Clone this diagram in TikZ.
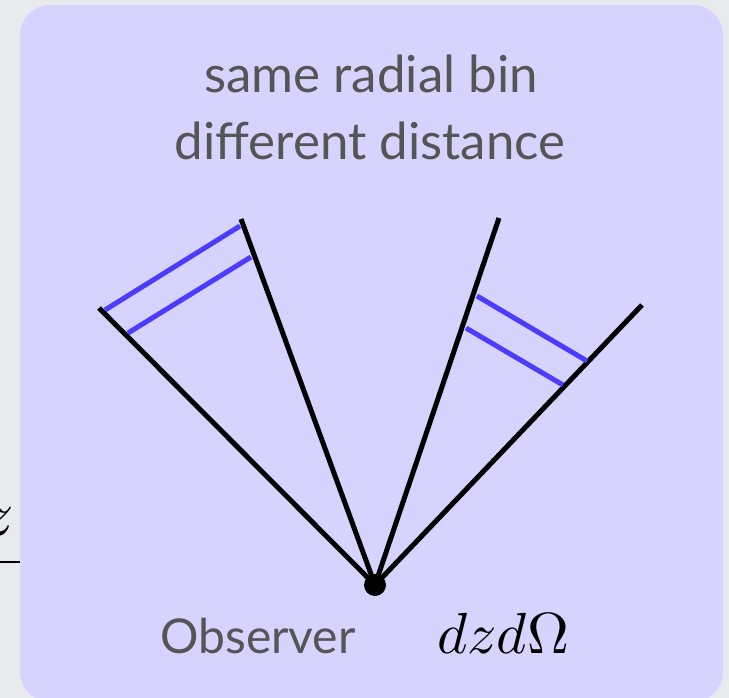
\documentclass[tikz,border=0pt]{standalone}
\usepackage{graphicx}
\usepackage{fontspec}
\setmainfont{Lato}
\definecolor{bgout}{RGB}{233,234,238}
\definecolor{panel}{RGB}{214,211,254}
\definecolor{txt}{RGB}{85,85,85}
\definecolor{binblue}{RGB}{75,60,255}
\begin{document}
\begin{tikzpicture}[x=1pt,y=-1pt,
  ray/.style={line width=5pt,black},
  binline/.style={line width=5pt,binblue},
  label/.style={anchor=base,text=txt,inner sep=0pt,font=\fontsize{51}{56}\selectfont},
  obslabel/.style={anchor=base,text=txt,inner sep=0pt,font=\fontsize{48}{54}\selectfont},
  mathlabel/.style={anchor=base,inner sep=0pt}]
\useasboundingbox (0,0) rectangle (729,698);
\fill[bgout] (0,0) rectangle (729,698);
% partial fraction from the slide behind
\node[anchor=base east,inner sep=0pt] (zfrag) at (14,535) {\scalebox{6.4}{$z$}};
\draw[line width=1.5pt] (0,562) -- (20,562);
% panel
\fill[panel,rounded corners=30pt] (20,5) rectangle (723,702);
% texts
\node[label] (t1) at (371,93) {same radial bin};
\node[label] (t2) at (370,160) {different distance};
\node[obslabel] (obs) at (258,653) {Observer};
\node[mathlabel] (meas) at (503,653) {\scalebox{5.8}{$dzd\Omega$}};
% geometry
\coordinate (O) at (375,585);
\coordinate (L1) at (99,308);
\coordinate (L2) at (241,219);
\coordinate (R1) at (499,218);
\coordinate (R2) at (642,305);
\draw[ray] (O) -- (L1);
\draw[ray] (O) -- (L2);
\draw[ray] (O) -- (R1);
\draw[ray] (O) -- (R2);
\coordinate (la1) at (105,310); \coordinate (lb1) at (240,226);
\coordinate (la2) at (128,333); \coordinate (lb2) at (251,257);
\coordinate (ra1) at (477,296); \coordinate (rb1) at (587,361);
\coordinate (ra2) at (466,328); \coordinate (rb2) at (563,385);
\draw[binline] (la1) -- (lb1);
\draw[binline] (la2) -- (lb2);
\draw[binline] (ra1) -- (rb1);
\draw[binline] (ra2) -- (rb2);
\fill[black] (O) circle (11pt);
\end{tikzpicture}
\end{document}
